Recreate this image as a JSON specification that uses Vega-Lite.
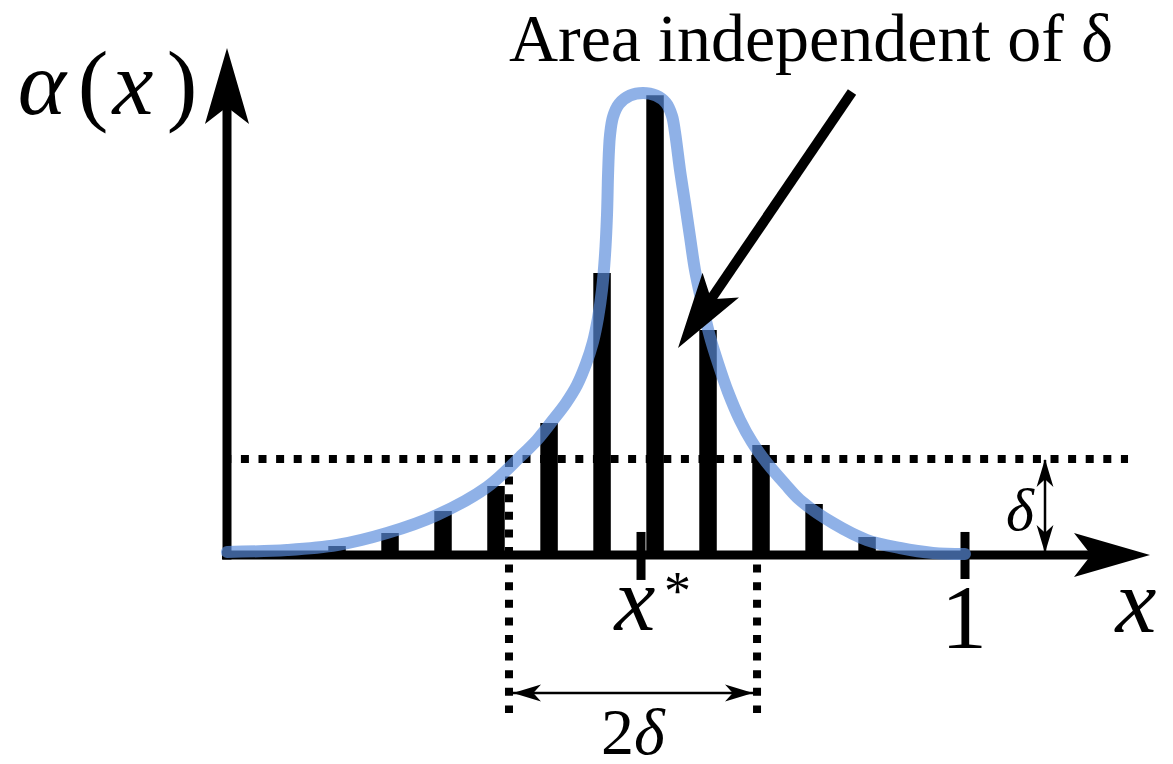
{
  "$schema": "https://vega.github.io/schema/vega-lite/v6.json",
  "width": 1173,
  "height": 764,
  "autosize": {"type": "none"},
  "padding": 0,
  "background": "white",
  "config": {"view": {"stroke": null}},
  "datasets": {
    "curve": [
      {"u": 0.0, "v": 0.031}, {"u": 0.0813, "v": 0.052}, {"u": 0.1491, "v": 0.104},
      {"u": 0.2168, "v": 0.229}, {"u": 0.2846, "v": 0.417}, {"u": 0.3523, "v": 0.708},
      {"u": 0.397, "v": 1.021}, {"u": 0.4201, "v": 1.198}, {"u": 0.4417, "v": 1.406},
      {"u": 0.4593, "v": 1.583}, {"u": 0.4743, "v": 1.771}, {"u": 0.4864, "v": 1.99},
      {"u": 0.4959, "v": 2.219}, {"u": 0.5027, "v": 2.469}, {"u": 0.5081, "v": 2.76},
      {"u": 0.5122, "v": 3.125}, {"u": 0.5149, "v": 3.542}, {"u": 0.5163, "v": 3.958},
      {"u": 0.5176, "v": 4.219}, {"u": 0.519, "v": 4.375}, {"u": 0.523, "v": 4.563},
      {"u": 0.5312, "v": 4.698}, {"u": 0.5461, "v": 4.786}, {"u": 0.5637, "v": 4.813},
      {"u": 0.5813, "v": 4.786}, {"u": 0.5949, "v": 4.708}, {"u": 0.603, "v": 4.573},
      {"u": 0.607, "v": 4.406}, {"u": 0.6098, "v": 4.25}, {"u": 0.6138, "v": 4.01},
      {"u": 0.6206, "v": 3.667}, {"u": 0.6274, "v": 3.3125}, {"u": 0.6341, "v": 2.969},
      {"u": 0.6436, "v": 2.625}, {"u": 0.6545, "v": 2.271}, {"u": 0.6653, "v": 2.0},
      {"u": 0.6789, "v": 1.698}, {"u": 0.6951, "v": 1.406}, {"u": 0.7114, "v": 1.177},
      {"u": 0.7317, "v": 0.958}, {"u": 0.7561, "v": 0.74}, {"u": 0.7764, "v": 0.573},
      {"u": 0.8211, "v": 0.333}, {"u": 0.8672, "v": 0.156}, {"u": 0.9119, "v": 0.073},
      {"u": 0.9566, "v": 0.021}, {"u": 1.0, "v": 0.01}
    ],
    "bars": [
      {"u": 0.1491, "v": 0.094}, {"u": 0.2209, "v": 0.229}, {"u": 0.2927, "v": 0.458},
      {"u": 0.3645, "v": 0.719}, {"u": 0.4364, "v": 1.375}, {"u": 0.5082, "v": 2.9375},
      {"u": 0.58, "v": 4.79}, {"u": 0.6518, "v": 2.344}, {"u": 0.7236, "v": 1.146},
      {"u": 0.7955, "v": 0.531}, {"u": 0.8673, "v": 0.1875}
    ],
    "axes": [
      {"u": -0.0068, "v": 0, "u2": 1.18, "v2": 0},
      {"u": 0, "v": -0.047, "u2": 0, "v2": 4.74},
      {"u": 0.561, "v": 0.24, "u2": 0.561, "v2": -0.26},
      {"u": 1.0, "v": 0.24, "u2": 1.0, "v2": -0.25}
    ],
    "pointer": [
      {"u": 0.8469, "v": 4.823, "u2": 0.6477, "v2": 2.573}
    ],
    "dotted": [
      {"u": -0.005, "v": 1, "u2": 1.2209, "v2": 1},
      {"u": 0.3821, "v": 1, "u2": 0.3821, "v2": -1.646},
      {"u": 0.7182, "v": 1, "u2": 0.7182, "v2": -1.646}
    ],
    "thin": [
      {"u": 0.3848, "v": -1.4375, "u2": 0.7154, "v2": -1.4375},
      {"u": 1.1084, "v": 0.99, "u2": 1.1084, "v2": 0.02}
    ],
    "bigHeads": [
      {"u": 0, "v": 4.885, "heading": 0},
      {"u": 1.1992, "v": 0, "heading": 90},
      {"u": 0.6401, "v": 2.483, "heading": 214.2}
    ],
    "smallHeads": [
      {"u": 0.4065, "v": -1.4375, "heading": 270},
      {"u": 0.6938, "v": -1.4375, "heading": 90},
      {"u": 1.1084, "v": 0.854, "heading": 0},
      {"u": 1.1084, "v": 0.1667, "heading": 180}
    ],
    "mathBig": [
      {"u": -0.2507, "v": 4.594, "label": "α"},
      {"u": -0.1274, "v": 4.594, "label": "x"},
      {"u": 1.2317, "v": -0.802, "label": "x"},
      {"u": 0.5528, "v": -0.781, "label": "x"}
    ],
    "romanBig": [
      {"u": -0.1816, "v": 4.594, "label": "("},
      {"u": -0.061, "v": 4.594, "label": ")"},
      {"u": 0.9986, "v": -0.969, "label": "1"}
    ],
    "star": [{"u": 0.6104, "v": -0.5625, "label": "*"}],
    "deltaSmall": [{"u": 1.0745, "v": 0.26, "label": "δ"}],
    "two": [{"u": 0.5515, "v": -2.073, "label": "2"}],
    "deltaBottom": [{"u": 0.5515, "v": -2.073, "label": "δ"}],
    "title": [{"u": 0.7913, "v": 5.146, "label": "Area independent of δ"}]
  },
  "encoding": {
    "x": {"field": "u", "type": "quantitative", "axis": null,
          "scale": {"domain": [-0.30759, 1.28184], "nice": false, "zero": false}},
    "y": {"field": "v", "type": "quantitative", "axis": null,
          "scale": {"domain": [-2.17708, 5.78125], "nice": false, "zero": false}}
  },
  "layer": [
    {
      "data": {"name": "bars"},
      "mark": {"type": "rule", "color": "black", "strokeWidth": 17.5, "strokeCap": "butt"},
      "encoding": {"y2": {"datum": 0}}
    },
    {
      "data": {"name": "dotted"},
      "mark": {"type": "rule", "color": "black", "strokeWidth": 8, "strokeDash": [8, 9.6], "strokeCap": "butt"},
      "encoding": {"x2": {"field": "u2"}, "y2": {"field": "v2"}}
    },
    {
      "data": {"name": "axes"},
      "mark": {"type": "rule", "color": "black", "strokeWidth": 9, "strokeCap": "butt"},
      "encoding": {"x2": {"field": "u2"}, "y2": {"field": "v2"}}
    },
    {
      "data": {"name": "curve"},
      "mark": {"type": "line", "color": "#5a8cdc", "opacity": 0.68, "strokeWidth": 12,
               "interpolate": "catmull-rom", "strokeCap": "round", "strokeJoin": "round"},
      "encoding": {}
    },
    {
      "data": {"name": "pointer"},
      "mark": {"type": "rule", "color": "black", "strokeWidth": 10, "strokeCap": "butt"},
      "encoding": {"x2": {"field": "u2"}, "y2": {"field": "v2"}}
    },
    {
      "data": {"name": "thin"},
      "mark": {"type": "rule", "color": "black", "strokeWidth": 2.5, "strokeCap": "butt"},
      "encoding": {"x2": {"field": "u2"}, "y2": {"field": "v2"}}
    },
    {
      "data": {"name": "bigHeads"},
      "mark": {"type": "point", "shape": "M0,-1L0.58,1L0,0.55L-0.58,1Z", "size": 5776,
               "filled": true, "color": "black", "opacity": 1, "strokeWidth": 0},
      "encoding": {"angle": {"field": "heading", "type": "quantitative", "scale": null}}
    },
    {
      "data": {"name": "smallHeads"},
      "mark": {"type": "point", "shape": "M0,-1L0.6,1L0,0.45L-0.6,1Z", "size": 784,
               "filled": true, "color": "black", "opacity": 1, "strokeWidth": 0},
      "encoding": {"angle": {"field": "heading", "type": "quantitative", "scale": null}}
    },
    {
      "data": {"name": "mathBig"},
      "mark": {"type": "text", "font": "Liberation Serif", "fontStyle": "italic", "fontSize": 92,
               "align": "center", "baseline": "alphabetic", "color": "black"},
      "encoding": {"text": {"field": "label"}}
    },
    {
      "data": {"name": "romanBig"},
      "mark": {"type": "text", "font": "Liberation Serif", "fontSize": 92,
               "align": "center", "baseline": "alphabetic", "color": "black"},
      "encoding": {"text": {"field": "label"}}
    },
    {
      "data": {"name": "star"},
      "mark": {"type": "text", "font": "Liberation Serif", "fontSize": 54,
               "align": "center", "baseline": "alphabetic", "color": "black"},
      "encoding": {"text": {"field": "label"}}
    },
    {
      "data": {"name": "deltaSmall"},
      "mark": {"type": "text", "font": "Liberation Serif", "fontStyle": "italic", "fontSize": 60,
               "align": "center", "baseline": "alphabetic", "color": "black"},
      "encoding": {"text": {"field": "label"}}
    },
    {
      "data": {"name": "two"},
      "mark": {"type": "text", "font": "Liberation Serif", "fontSize": 66,
               "align": "right", "baseline": "alphabetic", "color": "black"},
      "encoding": {"text": {"field": "label"}}
    },
    {
      "data": {"name": "deltaBottom"},
      "mark": {"type": "text", "font": "Liberation Serif", "fontStyle": "italic", "fontSize": 66,
               "align": "left", "baseline": "alphabetic", "color": "black"},
      "encoding": {"text": {"field": "label"}}
    },
    {
      "data": {"name": "title"},
      "mark": {"type": "text", "font": "Liberation Serif", "fontSize": 68,
               "align": "center", "baseline": "alphabetic", "color": "black"},
      "encoding": {"text": {"field": "label"}}
    }
  ]
}
